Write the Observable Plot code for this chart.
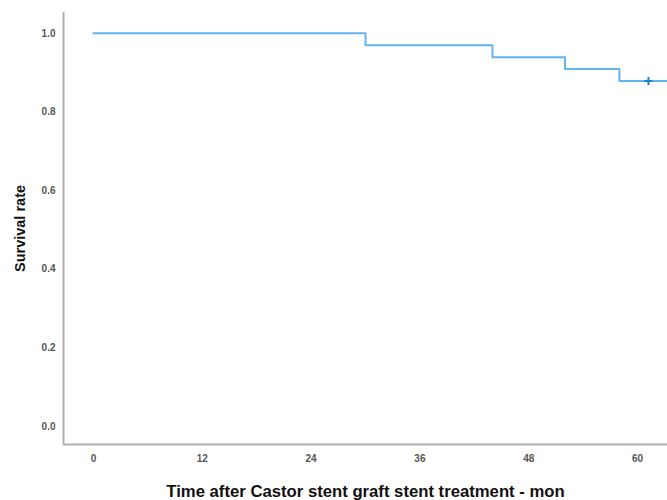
<!DOCTYPE html>
<html>
<head>
<meta charset="utf-8">
<script src="https://cdn.jsdelivr.net/npm/d3@7"></script>
<script src="https://cdn.jsdelivr.net/npm/@observablehq/plot@0.6"></script>
<style>
  html, body { margin: 0; padding: 0; background: #fff; }
  #chart svg { display: block; font-family: "Liberation Sans", Arial, sans-serif; }
  g[aria-label="y-axis label"] text { font-size: 14.5px; font-weight: bold; fill: #111; }
  g[aria-label="x-axis label"] text { font-size: 16.7px; font-weight: bold; fill: #111; }
  g[aria-label="y-axis tick label"] text, g[aria-label="x-axis tick label"] text { font-weight: bold; }
</style>
</head>
<body>
<div id="chart"></div>
<script>
// Kaplan-Meier step curve (months, survival)
const times = [0, 30, 44, 52, 58, 66];
const survival = [1.0, 0.970, 0.939, 0.909, 0.879, 0.879];
// censored observations
const censorTimes = [61.2];
const censorSurvival = [0.879];
const xTicks = [0, 12, 24, 36, 48, 60];
const yTicks = [0.0, 0.2, 0.4, 0.6, 0.8, 1.0];

const curve = times.map((t, i) => ({t, s: survival[i]}));
const censors = censorTimes.map((t, i) => ({t, s: censorSurvival[i]}));

const xDomain = [-3.3, 63.3];
const yDomain = [-0.046, 1.053];

const thinPlus = {
  draw(ctx, size) {
    const r = Math.sqrt(size) / 2;
    ctx.moveTo(-r, 0); ctx.lineTo(r, 0);
    ctx.moveTo(0, -r); ctx.lineTo(0, r);
  }
};

const chart = Plot.plot({
  width: 667,
  height: 500,
  marginLeft: 63,
  marginRight: 0,
  marginTop: 12,
  marginBottom: 56,
  style: {fontFamily: '"Liberation Sans", Arial, sans-serif', background: "#fff"},
  x: {domain: xDomain},
  y: {domain: yDomain},
  marks: [
    Plot.axisY({
      ticks: yTicks, tickSize: 0, tickPadding: 8, tickFormat: d3.format(".1f"),
      fontSize: 10, fill: "#555",
      label: "Survival rate", labelAnchor: "center", labelArrow: "none", labelOffset: 49
    }),
    Plot.axisX({
      ticks: xTicks, tickSize: 0, tickPadding: 10,
      fontSize: 10, fill: "#555",
      label: "Time after Castor stent graft stent treatment - mon",
      labelAnchor: "center", labelArrow: "none", labelOffset: 52
    }),
    Plot.ruleX([xDomain[0]], {stroke: "#b0b0b0", strokeWidth: 2}),
    Plot.ruleY([yDomain[0]], {stroke: "#b0b0b0", strokeWidth: 2}),
    Plot.line(curve, {x: "t", y: "s", curve: "step-after", stroke: "#62b4f0", strokeWidth: 2, clip: true}),
    Plot.dot(censors, {x: "t", y: "s", symbol: thinPlus, r: 4.5, stroke: "#1f7fd0", strokeWidth: 2, fill: "none"})
  ]
});
document.getElementById("chart").appendChild(chart);
</script>
</body>
</html>
